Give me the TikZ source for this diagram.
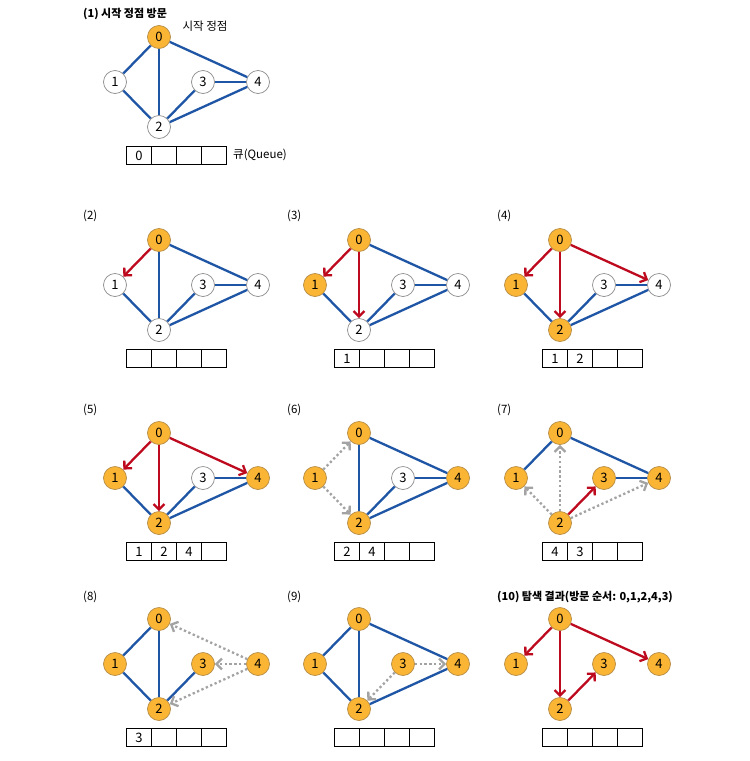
\documentclass[tikz,border=0pt]{standalone}
\usepackage{fontspec}
\setmainfont{Noto Sans CJK KR}
\usetikzlibrary{arrows.meta}
\definecolor{eblue}{HTML}{1F55A5}
\definecolor{ered}{HTML}{BE0A1E}
\definecolor{vorange}{HTML}{FBB534}
\definecolor{vborder}{HTML}{B58C45}
\definecolor{uborder}{HTML}{8C8C8C}
\definecolor{dgray}{HTML}{A3A3A3}
\tikzset{
  gnode/.style={circle, minimum size=23pt, inner sep=0pt, line width=0.7pt, font=\fontsize{13}{13}\selectfont},
  vis/.style={gnode, fill=vorange, draw=vborder},
  unv/.style={gnode, fill=white, draw=uborder},
  bedge/.style={draw=eblue, line width=2.3pt},
  redarr/.style={draw=ered, line width=2.3pt, -{Straight Barb[length=5.5pt,width=11pt]}},
  grayarr/.style={draw=dgray, line width=2.3pt, dash pattern=on 2.3pt off 2.5pt, -{Straight Barb[length=5.5pt,width=11pt]}},
  qcell/.style={draw=black, line width=0.8pt, minimum width=25pt, minimum height=18pt, inner sep=0pt, anchor=north west, font=\fontsize{13}{13}\selectfont},
  ttl/.style={anchor=west, inner sep=0pt, font=\fontsize{11.5}{13}\selectfont},
}
\newcommand{\gnodes}[8]{%
  \node[#4] (#1-0) at (#2,#3) {0};
  \node[#5] (#1-1) at (#2-44,#3+45) {1};
  \node[#6] (#1-2) at (#2,#3+90) {2};
  \node[#7] (#1-3) at (#2+44,#3+45) {3};
  \node[#8] (#1-4) at (#2+99,#3+45) {4};
}
\newcommand{\queuebox}[7]{%
  \node[qcell] (#1-q1) at (#2,#3) {#4};
  \node[qcell] (#1-q2) at (#2+25,#3) {#5};
  \node[qcell] (#1-q3) at (#2+50,#3) {#6};
  \node[qcell] (#1-q4) at (#2+75,#3) {#7};
}
\begin{document}
\begin{tikzpicture}[x=1pt,y=-1pt]
\useasboundingbox[fill=white] (0,0) rectangle (750,761);
% ---------- panel 1
\node[ttl, font=\fontsize{11}{13}\selectfont\bfseries] (t1) at (83,14) {(1) 시작 정점 방문};
\gnodes{p1}{159}{37}{vis}{unv}{unv}{unv}{unv}
\draw[bedge] (p1-0)--(p1-1); \draw[bedge] (p1-0)--(p1-2); \draw[bedge] (p1-0)--(p1-4);
\draw[bedge] (p1-1)--(p1-2); \draw[bedge] (p1-2)--(p1-3); \draw[bedge] (p1-3)--(p1-4);
\draw[bedge] (p1-2)--(p1-4);
\node[ttl, anchor=center] (p1-start) at (205,26) {시작 정점};
\queuebox{p1}{126}{146}{0}{}{}{}
\node[ttl] (p1-qlabel) at (233,155) {큐(Queue)};
% ---------- panel 2
\node[ttl] (t2) at (83,216) {(2)};
\gnodes{p2}{159}{240}{vis}{unv}{unv}{unv}{unv}
\draw[redarr] (p2-0)--(p2-1);
\draw[bedge] (p2-0)--(p2-2); \draw[bedge] (p2-0)--(p2-4);
\draw[bedge] (p2-1)--(p2-2); \draw[bedge] (p2-2)--(p2-3); \draw[bedge] (p2-3)--(p2-4);
\draw[bedge] (p2-2)--(p2-4);
\queuebox{p2}{126}{349}{}{}{}{}
% ---------- panel 3
\node[ttl] (t3) at (287,216) {(3)};
\gnodes{p3}{359}{240}{vis}{vis}{unv}{unv}{unv}
\draw[redarr] (p3-0)--(p3-1); \draw[redarr] (p3-0)--(p3-2);
\draw[bedge] (p3-0)--(p3-4);
\draw[bedge] (p3-1)--(p3-2); \draw[bedge] (p3-2)--(p3-3); \draw[bedge] (p3-3)--(p3-4);
\draw[bedge] (p3-2)--(p3-4);
\queuebox{p3}{334}{349}{1}{}{}{}
% ---------- panel 4
\node[ttl] (t4) at (497,216) {(4)};
\gnodes{p4}{560}{240}{vis}{vis}{vis}{unv}{unv}
\draw[redarr] (p4-0)--(p4-1); \draw[redarr] (p4-0)--(p4-2); \draw[redarr] (p4-0)--(p4-4);
\draw[bedge] (p4-1)--(p4-2); \draw[bedge] (p4-2)--(p4-3); \draw[bedge] (p4-3)--(p4-4);
\draw[bedge] (p4-2)--(p4-4);
\queuebox{p4}{542}{349}{1}{2}{}{}
% ---------- panel 5
\node[ttl] (t5) at (83,410) {(5)};
\gnodes{p5}{159}{433}{vis}{vis}{vis}{unv}{vis}
\draw[redarr] (p5-0)--(p5-1); \draw[redarr] (p5-0)--(p5-2); \draw[redarr] (p5-0)--(p5-4);
\draw[bedge] (p5-1)--(p5-2); \draw[bedge] (p5-2)--(p5-3); \draw[bedge] (p5-3)--(p5-4);
\draw[bedge] (p5-2)--(p5-4);
\queuebox{p5}{126}{542}{1}{2}{4}{}
% ---------- panel 6
\node[ttl] (t6) at (287,410) {(6)};
\gnodes{p6}{359}{433}{vis}{vis}{vis}{unv}{vis}
\draw[grayarr] (p6-1)--(p6-0); \draw[grayarr] (p6-1)--(p6-2);
\draw[bedge] (p6-0)--(p6-2); \draw[bedge] (p6-0)--(p6-4);
\draw[bedge] (p6-2)--(p6-3); \draw[bedge] (p6-3)--(p6-4);
\draw[bedge] (p6-2)--(p6-4);
\queuebox{p6}{334}{542}{2}{4}{}{}
% ---------- panel 7
\node[ttl] (t7) at (497,410) {(7)};
\gnodes{p7}{560}{433}{vis}{vis}{vis}{vis}{vis}
\draw[bedge] (p7-0)--(p7-1); \draw[bedge] (p7-0)--(p7-4); \draw[bedge] (p7-3)--(p7-4);
\draw[grayarr] (p7-2)--(p7-0); \draw[grayarr] (p7-2)--(p7-1); \draw[grayarr] (p7-2)--(p7-4);
\draw[redarr] (p7-2)--(p7-3);
\queuebox{p7}{542}{542}{4}{3}{}{}
% ---------- panel 8
\node[ttl] (t8) at (83,597) {(8)};
\gnodes{p8}{159}{619}{vis}{vis}{vis}{vis}{vis}
\draw[bedge] (p8-0)--(p8-1); \draw[bedge] (p8-0)--(p8-2);
\draw[bedge] (p8-1)--(p8-2); \draw[bedge] (p8-2)--(p8-3);
\draw[grayarr] (p8-4)--(p8-0); \draw[grayarr] (p8-4)--(p8-3); \draw[grayarr] (p8-4)--(p8-2);
\queuebox{p8}{126}{728}{3}{}{}{}
% ---------- panel 9
\node[ttl] (t9) at (287,597) {(9)};
\gnodes{p9}{359}{619}{vis}{vis}{vis}{vis}{vis}
\draw[bedge] (p9-0)--(p9-1); \draw[bedge] (p9-0)--(p9-2); \draw[bedge] (p9-0)--(p9-4);
\draw[bedge] (p9-1)--(p9-2); \draw[bedge] (p9-2)--(p9-4);
\draw[grayarr] (p9-3)--(p9-4); \draw[grayarr] (p9-3)--(p9-2);
\queuebox{p9}{334}{728}{}{}{}{}
% ---------- panel 10
\node[ttl, font=\fontsize{11}{13}\selectfont\bfseries] (t10) at (497,597) {(10) 탐색 결과(방문 순서: 0,1,2,4,3)};
\gnodes{p10}{560}{619}{vis}{vis}{vis}{vis}{vis}
\draw[redarr] (p10-0)--(p10-1); \draw[redarr] (p10-0)--(p10-2); \draw[redarr] (p10-0)--(p10-4);
\draw[redarr] (p10-2)--(p10-3);
\queuebox{p10}{542}{728}{}{}{}{}
\end{tikzpicture}
\end{document}
